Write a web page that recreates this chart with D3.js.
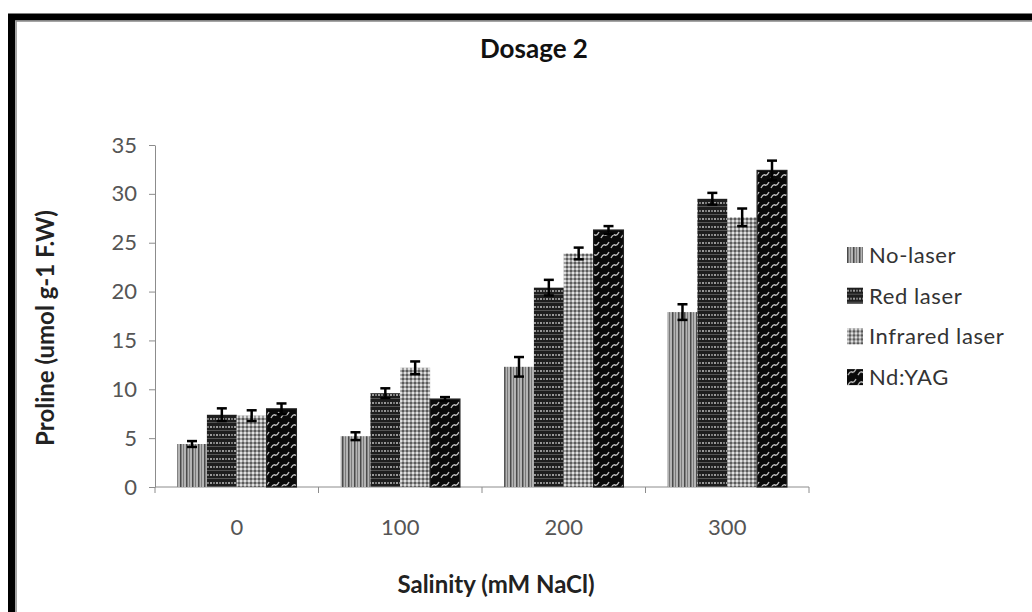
<!DOCTYPE html>
<html>
<head>
<meta charset="utf-8">
<script src="https://cdn.jsdelivr.net/npm/d3@7"></script>
<style>
  body { margin: 0; background: #fff; }
  text { font-family: Lato, "Open Sans", sans-serif; }
</style>
</head>
<body>
<div id="chart"></div>
<script>
// chart data
var categories = ["0", "100", "200", "300"];
var seriesNames = ["No-laser", "Red laser", "Infrared laser", "Nd:YAG"];
var noLaser = [4.4, 5.2, 12.3, 17.9];
var noLaserErr = [0.3, 0.4, 1.0, 0.8];
var redLaser = [7.4, 9.6, 20.4, 29.5];
var redLaserErr = [0.65, 0.5, 0.8, 0.6];
var infraredLaser = [7.3, 12.2, 23.9, 27.6];
var infraredLaserErr = [0.55, 0.65, 0.6, 0.9];
var ndYag = [8.0, 9.0, 26.3, 32.4];
var ndYagErr = [0.55, 0.2, 0.4, 1.0];
var yTicks = [0, 5, 10, 15, 20, 25, 30, 35];

var values = [noLaser, redLaser, infraredLaser, ndYag];
var errors = [noLaserErr, redLaserErr, infraredLaserErr, ndYagErr];
var patternIds = ["pNo", "pRed", "pIr", "pNd"];

var svgWidth = 1032;
var svgHeight = 612;

// plot area
var plot = { left: 155, right: 809, top: 145, bottom: 487 };

var svg = d3.select("#chart")
  .append("svg")
  .attr("width", svgWidth)
  .attr("height", svgHeight);

// fill patterns
var defs = svg.append("defs");

var pNo = defs.append("pattern").attr("id", "pNo")
  .attr("patternUnits", "userSpaceOnUse").attr("width", 6).attr("height", 6);
pNo.append("rect").attr("width", 6).attr("height", 6).attr("fill", "#b4b4b4");
pNo.append("rect").attr("x", 0).attr("width", 1.5).attr("height", 6).attr("fill", "#4a4a4a");
pNo.append("rect").attr("x", 3).attr("width", 1).attr("height", 6).attr("fill", "#7a7a7a");

var pRed = defs.append("pattern").attr("id", "pRed")
  .attr("patternUnits", "userSpaceOnUse").attr("width", 6).attr("height", 8);
pRed.append("rect").attr("width", 6).attr("height", 8).attr("fill", "#1e1e1e");
pRed.append("rect").attr("y", 2).attr("width", 2).attr("height", 2).attr("fill", "#9a9a9a");
pRed.append("rect").attr("x", 3).attr("y", 2).attr("width", 2).attr("height", 2).attr("fill", "#777");
pRed.append("rect").attr("y", 6).attr("width", 6).attr("height", 1).attr("fill", "#555");

var pIr = defs.append("pattern").attr("id", "pIr")
  .attr("patternUnits", "userSpaceOnUse").attr("width", 4).attr("height", 4);
pIr.append("rect").attr("width", 4).attr("height", 4).attr("fill", "#9c9c9c");
pIr.append("rect").attr("width", 2).attr("height", 2).attr("fill", "#e0e0e0");
pIr.append("rect").attr("x", 2).attr("y", 2).attr("width", 2).attr("height", 2).attr("fill", "#5a5a5a");

var pNd = defs.append("pattern").attr("id", "pNd")
  .attr("patternUnits", "userSpaceOnUse").attr("width", 10).attr("height", 10);
pNd.append("rect").attr("width", 10).attr("height", 10).attr("fill", "#0a0a0a");
pNd.append("path")
  .attr("d", "M1,8 Q3,4 5,5 T9,2")
  .attr("fill", "none").attr("stroke", "#bdbdbd").attr("stroke-width", 1.4);

// outer frame
svg.append("rect")
  .attr("x", 11.5).attr("y", 17)
  .attr("width", 1100).attr("height", 700)
  .attr("fill", "none").attr("stroke", "#000").attr("stroke-width", 7);
svg.append("rect")
  .attr("x", 16).attr("y", 21)
  .attr("width", 1100).attr("height", 700)
  .attr("fill", "none").attr("stroke", "#888").attr("stroke-width", 1.5);

// scales
var x0 = d3.scaleBand()
  .domain(categories)
  .range([plot.left, plot.right])
  .padding(0);

var groupWidth = x0.bandwidth() * 0.73;
var x1 = d3.scaleBand()
  .domain(seriesNames)
  .range([0, groupWidth])
  .padding(0);

var y = d3.scaleLinear()
  .domain([0, 35])
  .range([plot.bottom, plot.top]);

// axes
var leftAxis = d3.axisLeft(y).tickValues(yTicks).tickSize(6).tickSizeOuter(0);
var yAxisG = svg.append("g")
  .attr("transform", `translate(${plot.left}, 0)`)
  .call(leftAxis);
yAxisG.select(".domain").attr("stroke", "#8c8c8c");
yAxisG.selectAll(".tick line").attr("stroke", "#8c8c8c");
yAxisG.selectAll(".tick text")
  .attr("x", -18)
  .attr("fill", "#555")
  .attr("font-size", 22)
  .style("font-family", "Lato, sans-serif");

var bottomAxis = d3.axisBottom(x0).tickSize(0).tickPadding(32);
var xAxisG = svg.append("g")
  .attr("transform", `translate(0, ${plot.bottom})`)
  .call(bottomAxis);
xAxisG.select(".domain").attr("stroke", "#8c8c8c").attr("d", `M${plot.left},0H${plot.right}`);
xAxisG.selectAll(".tick text")
  .attr("fill", "#555")
  .attr("font-size", 22)
  .style("font-family", "Lato, sans-serif");

// x-axis boundary ticks
var bounds = categories.map(c => x0(c)).concat([plot.right]);
svg.append("g").selectAll("line")
  .data(bounds)
  .enter()
  .append("line")
  .attr("x1", d => d).attr("x2", d => d)
  .attr("y1", plot.bottom).attr("y2", plot.bottom + 6)
  .attr("stroke", "#8c8c8c");

// bars
var barData = [];
categories.forEach(function(c, ci) {
  seriesNames.forEach(function(s, si) {
    barData.push({ cat: c, ser: s, si: si, value: values[si][ci], err: errors[si][ci] });
  });
});

var offset = (x0.bandwidth() - groupWidth) / 2;

svg.append("g").selectAll("rect")
  .data(barData)
  .enter()
  .append("rect")
  .attr("x", d => x0(d.cat) + offset + x1(d.ser))
  .attr("y", d => y(d.value))
  .attr("width", x1.bandwidth())
  .attr("height", d => y(0) - y(d.value))
  .attr("fill", d => `url(#${patternIds[d.si]})`)
  .attr("stroke", d => d.si === 3 ? "#222" : "none")
  .attr("stroke-width", 1.2);

// error bars
var errG = svg.append("g").attr("stroke", "#000").attr("stroke-width", 2.5);
barData.forEach(function(d) {
  var cx = x0(d.cat) + offset + x1(d.ser) + x1.bandwidth() / 2;
  errG.append("line")
    .attr("x1", cx).attr("x2", cx)
    .attr("y1", y(d.value + d.err)).attr("y2", y(d.value - d.err));
  errG.append("line")
    .attr("x1", cx - 5).attr("x2", cx + 5)
    .attr("y1", y(d.value + d.err)).attr("y2", y(d.value + d.err));
  errG.append("line")
    .attr("x1", cx - 5).attr("x2", cx + 5)
    .attr("y1", y(d.value - d.err)).attr("y2", y(d.value - d.err));
});

// title
svg.append("text")
  .attr("x", 534).attr("y", 58)
  .attr("text-anchor", "middle")
  .attr("font-size", 26)
  .attr("font-weight", "bold")
  .attr("fill", "#111")
  .text("Dosage 2");

// axis labels
svg.append("text")
  .attr("transform", "translate(54, 328) rotate(-90)")
  .attr("text-anchor", "middle")
  .attr("font-size", 24)
  .attr("font-weight", "bold")
  .attr("fill", "#222")
  .text("Proline (umol g-1 F.W)");

svg.append("text")
  .attr("x", 496).attr("y", 593)
  .attr("text-anchor", "middle")
  .attr("font-size", 24)
  .attr("font-weight", "bold")
  .attr("fill", "#222")
  .text("Salinity (mM NaCl)");

// legend
var legend = svg.append("g").selectAll("g")
  .data(seriesNames)
  .enter()
  .append("g")
  .attr("transform", (d, i) => `translate(847, ${255 + i * 40.7})`);

legend.append("rect")
  .attr("x", 0).attr("y", -8)
  .attr("width", 16).attr("height", 16)
  .attr("fill", (d, i) => `url(#${patternIds[i]})`);

legend.append("text")
  .attr("x", 22).attr("y", 8)
  .attr("font-size", 22)
  .attr("letter-spacing", 0.6)
  .attr("fill", "#333")
  .text(d => d);
</script>
</body>
</html>
